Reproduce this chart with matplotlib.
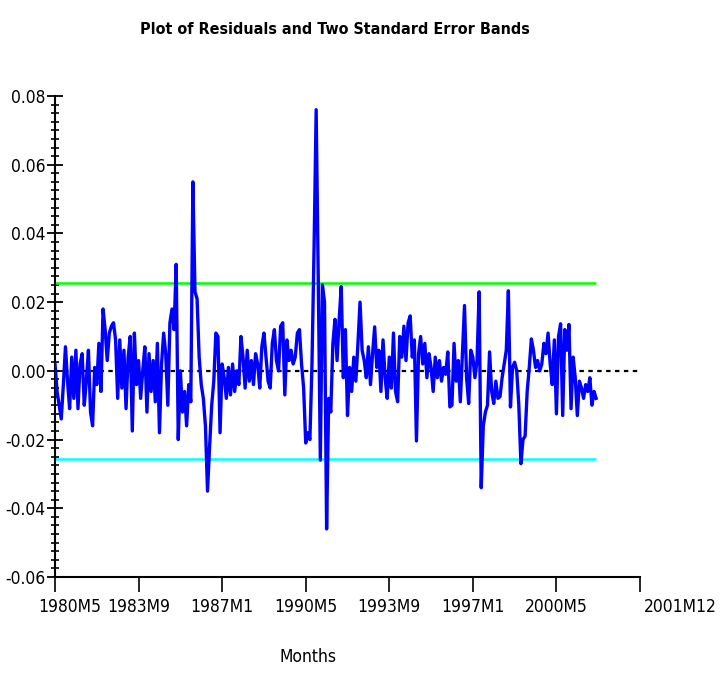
import numpy as np
import matplotlib
matplotlib.use("Agg")
import matplotlib.pyplot as plt
from matplotlib.ticker import MultipleLocator
import matplotlib.transforms as mtransforms
from matplotlib import font_manager
from matplotlib.font_manager import FontProperties

# ---------------- data ----------------
residuals = [
    0.002, -0.006, -0.010, -0.014, -0.004, 0.007, -0.003, -0.011, 0.004, -0.008,
    0.006, -0.011, 0.002, 0.005, -0.010, -0.003, 0.006, -0.012, -0.016, 0.001,
    -0.004, 0.008, -0.006, 0.018, 0.012, 0.003, 0.011, 0.013, 0.014, 0.009,
    -0.008, 0.009, -0.005, 0.006, -0.011, 0.004, 0.010, -0.0175, 0.011, -0.004,
    0.003, -0.008, 0.000, 0.007, -0.012, 0.005, -0.006, 0.003, -0.009, 0.008,
    -0.018, 0.002, 0.011, 0.005, -0.010, 0.014, 0.018, 0.012, 0.031, -0.020,
    0.000, -0.012, -0.006, -0.016, -0.004, -0.009, 0.055, 0.023, 0.021, 0.004,
    -0.004, -0.008, -0.016, -0.035, -0.022, -0.010, -0.003, 0.011, 0.010, -0.018,
    0.002, -0.002, -0.008, 0.001, -0.007, 0.002, -0.006, 0.000, -0.004, 0.010,
    0.004, -0.005, 0.006, -0.003, 0.003, -0.004, 0.005, 0.002, -0.005, 0.007,
    0.011, 0.004, -0.003, -0.005, 0.008, 0.012, 0.003, 0.000, 0.013, 0.014,
    -0.007, 0.009, 0.003, 0.006, 0.002, 0.004, 0.011, 0.012, 0.002, -0.005,
    -0.021, -0.018, -0.020, 0.002, 0.036, 0.076, 0.027, -0.026, 0.025, 0.020,
    -0.046, -0.008, -0.012, 0.008, 0.015, 0.003, 0.015, 0.0245, -0.002, 0.012,
    -0.013, 0.001, -0.006, 0.004, -0.003, 0.008, 0.020, 0.006, 0.003, -0.002,
    0.007, -0.004, 0.005, 0.0128, 0.001, 0.006, -0.006, 0.009, -0.002, -0.008,
    0.004, -0.005, 0.011, -0.006, -0.009, 0.010, 0.004, 0.013, 0.003, 0.014,
    0.016, 0.004, 0.009, -0.0204, 0.005, 0.010, 0.002, 0.008, -0.002, 0.005,
    0.001, -0.006, 0.004, -0.002, 0.003, -0.003, 0.001, -0.001, 0.0055, -0.0105,
    -0.010, 0.008, -0.003, 0.003, -0.009, 0.005, 0.019, -0.002, -0.0095, 0.006,
    0.004, -0.002, 0.003, 0.023, -0.034, -0.016, -0.012, -0.010, 0.0055, -0.006,
    -0.0095, -0.003, -0.008, -0.0075, -0.002, 0.002, 0.006, 0.0233, -0.0105, 0.001,
    0.0025, 0.000, -0.010, -0.027, -0.020, -0.019, -0.006, 0.001, 0.0093, 0.006,
    0.001, 0.003, 0.000, 0.002, 0.008, 0.005, 0.011, 0.002, -0.004, 0.009,
    -0.0125, 0.010, 0.0137, -0.013, 0.012, 0.006, 0.0135, -0.011, 0.004, -0.002,
    -0.013, -0.003, -0.005, -0.008, -0.004, -0.006, -0.002, -0.010, -0.006, -0.008,
]
upper_band = 0.0256
lower_band = -0.0256
x_tick_months = [0, 40, 80, 120, 160, 200, 240, 280]
x_tick_labels = ["1980M5", "1983M9", "1987M1", "1990M5", "1993M9", "1997M1", "2000M5", "2001M12"]
y_ticks = [-0.06, -0.04, -0.02, 0.00, 0.02, 0.04, 0.06, 0.08]

# ---------------- fonts: look for a condensed sans ----------------
def is_condensed(f):
    nm = f.name.lower()
    st = f.stretch
    if "narrow" in nm or "condensed" in nm:
        return True
    if isinstance(st, str) and "condensed" in st:
        return True
    if isinstance(st, (int, float)) and st < 500:
        return True
    return False

cands = [f for f in font_manager.fontManager.ttflist
         if is_condensed(f) and "serif" not in f.name.lower().replace("sans", "")
         and "mono" not in f.name.lower() and f.style == "normal"]

def wnum(w):
    if isinstance(w, (int, float)):
        return w
    return {"normal": 400, "regular": 400, "bold": 700, "book": 400}.get(str(w).lower(), 400)

reg = [f for f in cands if wnum(f.weight) in (400, 500)]
bold = [f for f in cands if wnum(f.weight) >= 600]
if reg:
    fp_reg = FontProperties(fname=reg[0].fname)
    fp_bold = FontProperties(fname=(bold[0].fname if bold else reg[0].fname))
    tick_size, title_size = 12.5, 11.5
else:
    fp_reg = FontProperties(family="Liberation Sans")
    fp_bold = FontProperties(family="Liberation Sans", weight="bold")
    tick_size, title_size = 11.5, 10.5

W, H = 720, 700
fig = plt.figure(figsize=(W / 100, H / 100), dpi=100)
ax = fig.add_axes([55 / W, 1 - 577 / H, 585 / W, (577 - 96) / H])

n = len(residuals)
months = np.arange(n)
ax.axhline(0.0, color="black", lw=1.6, ls=(0, (2, 2)), zorder=1)
ax.hlines([upper_band], 0, n - 1, color="#00ff00", lw=1.8, zorder=2)
ax.hlines([lower_band], 0, n - 1, color="#00ffff", lw=1.8, zorder=2)
ax.plot(months, residuals, color="#0000ff", lw=2.4, zorder=3)

ax.set_xlim(0, 280)
ax.set_ylim(-0.06, 0.08)

for s in ["top", "right"]:
    ax.spines[s].set_visible(False)
for s in ["left", "bottom"]:
    ax.spines[s].set_linewidth(1.5)
    ax.spines[s].set_color("black")

ax.set_yticks(y_ticks)
ax.set_yticklabels([f"{v:.2f}" for v in y_ticks])
ax.yaxis.set_minor_locator(MultipleLocator(0.0025))
ax.tick_params(axis="y", which="major", direction="inout", length=12, width=1.3, pad=1)
ax.tick_params(axis="y", which="minor", direction="inout", length=6, width=1.2)

ax.set_xticks(x_tick_months)
ax.set_xticklabels(x_tick_labels)
ax.tick_params(axis="x", which="major", direction="out", length=11, width=1.2, pad=4)

for lab in ax.get_yticklabels() + ax.get_xticklabels():
    lab.set_fontproperties(fp_reg)
    lab.set_fontsize(tick_size)

labels = ax.get_xticklabels()
labels[0].set_transform(labels[0].get_transform() +
                        mtransforms.ScaledTranslation(15 / 100, 0, fig.dpi_scale_trans))
labels[-1].set_transform(labels[-1].get_transform() +
                         mtransforms.ScaledTranslation(40 / 100, 0, fig.dpi_scale_trans))

fig.text(335 / W, 1 - 30 / H, "Plot of Residuals and Two Standard Error Bands",
         ha="center", va="center", fontproperties=fp_bold, fontsize=title_size)
fig.text(308 / W, 1 - 657 / H, "Months", ha="center", va="center",
         fontproperties=fp_reg, fontsize=tick_size)

fig.savefig("out.png", dpi=100)
